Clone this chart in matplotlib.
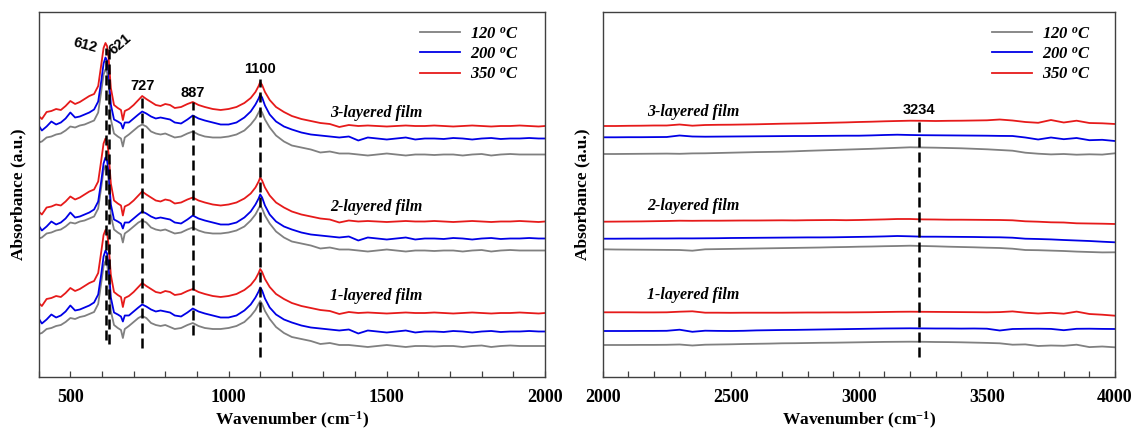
import matplotlib.pyplot as plt
from matplotlib.lines import Line2D
from matplotlib.ticker import MultipleLocator

plt.rcParams['font.family'] = 'serif'
plt.rcParams['font.serif'] = ['Liberation Serif', 'DejaVu Serif']
plt.rcParams['font.weight'] = 'bold'
plt.rcParams['axes.labelweight'] = 'bold'
plt.rcParams['mathtext.default'] = 'regular'

temps = ['120', '200', '350']
colors = {'120': '#808080', '200': '#0000e6', '350': '#e61a1a'}
films = ['1-layered film', '2-layered film', '3-layered film']

# ---- 400-2000 cm-1 : band profiles (height above the 2000 cm-1 level) ----
wn_low = [400, 410, 425, 440, 455, 470, 485, 500, 515, 530,
          545, 560, 575, 588, 598, 605, 611, 616, 621, 628,
          638, 650, 660, 666, 672, 685, 700, 715, 727, 740,
          755, 770, 785, 800, 815, 830, 850, 870, 887, 905,
          925, 950, 975, 1000, 1025, 1050, 1070, 1085, 1095, 1100,
          1106, 1115, 1130, 1150, 1175, 1200, 1230, 1260, 1290, 1320,
          1350, 1380, 1410, 1440, 1470, 1500, 1530, 1560, 1590, 1620,
          1650, 1680, 1710, 1740, 1770, 1800, 1830, 1860, 1890, 1920,
          1950, 1980, 2000]

band_350 = [10, 7, 14, 15, 17, 16, 20, 25, 22, 24,
            27, 30, 32, 40, 62, 78, 83, 80, 68, 38,
            21, 18, 16, 6, 15, 17, 21, 26, 30, 27,
            24, 21, 20, 22, 21, 18, 19, 22, 24, 21,
            19, 17, 16, 17, 19, 23, 28, 34, 40, 44,
            41, 34, 26, 19, 14, 10, 7, 5, 3, 2,
            -1, 1, 0, 0.5, 0, -0.5, 0, 0.5, 0, 0,
            0.5, 0, -0.5, 0, 0.5, 0, -0.5, 0, 0, 0.5,
            0, -0.5, 0]
band_200 = [13, 8, 12, 17, 14, 16, 20, 26, 21, 22,
            24, 26, 29, 37, 58, 75, 81, 78, 66, 34,
            19, 17, 15, 10, 16, 16, 20, 24, 27, 25,
            22, 20, 21, 20, 19, 16, 15, 19, 23, 20,
            18, 16, 14, 14, 16, 21, 27, 34, 40, 44,
            41, 33, 24, 17, 12, 9, 6, 4, 3, 2,
            1, 2, -2, 1, 0, -1, 0, 1, -1, 0,
            0, -0.5, 0.5, 0, -1, 0, 0.5, -0.5, 0, 0,
            0.5, 0, 0]
band_120 = [12, 13, 17, 18, 20, 21, 24, 28, 27, 29,
            30, 32, 34, 42, 64, 80, 85, 82, 70, 35,
            21, 18, 16, 8, 17, 20, 24, 28, 30, 28,
            23, 21, 20, 21, 19, 17, 18, 21, 23, 20,
            18, 17, 17, 18, 20, 24, 30, 36, 42, 45,
            42, 35, 27, 19, 13, 9, 7, 5, 2, 3,
            1, 1, 0, -1, 0, 1, 0, -1, 0, 0,
            -0.5, 0, 0, -1, 0, 0.5, -1, 0, 0.5, 0,
            0, 0, 0]
bands = {'120': band_120, '200': band_200, '350': band_350}

# vertical offset of each trace (1-, 2-, 3-layered film)
offsets = {'120': [31, 126.5, 222.5],
           '200': [45.5, 138.5, 238.5],
           '350': [64, 155.5, 251]}

# ---- 2000-4000 cm-1 ----
wn_high = list(range(2000, 4001, 50))

high = {
    ('350', 2): [251, 251, 251.2, 251.3, 251.5, 251.5, 252.5, 251.3, 252, 252.2,
                 252.3, 252.5, 252.7, 253, 253.3, 253.5, 253.7, 254, 254.3, 254.6,
                 255, 255.3, 255.7, 256, 256.3, 256.2, 256, 256.2, 256.3, 256.5,
                 256.7, 257.5, 256.5, 255, 254.2, 257, 254.5, 256.3, 254, 253.7, 253],
    ('200', 2): [239.7, 239.7, 239.8, 239.8, 239.9, 240, 241.5, 240.5, 240.3, 240.4,
                 240.5, 240.6, 240.7, 240.8, 240.9, 241, 241, 241.1, 241.2, 241.3,
                 241.3, 241.6, 242, 242.3, 242, 241.8, 241.7, 241.6, 241.5, 241.4,
                 241.3, 241.1, 241, 239.5, 237.5, 239.5, 237.8, 239, 236.8, 237.2, 236],
    ('120', 2): [223, 223, 223.1, 223.2, 223.3, 223.4, 223.2, 223.6, 223.7, 224,
                 224.3, 224.6, 224.9, 225.1, 225.3, 225.7, 226.2, 226.6, 227, 227.4,
                 227.8, 228.2, 228.7, 229.2, 229.7, 229.5, 229.3, 229, 228.7, 228.2,
                 227.7, 227, 226.3, 224.3, 223.3, 222.6, 223, 222.3, 222.7, 222.4, 223.7],
    ('350', 1): [155.3, 155.4, 155.5, 155.6, 155.8, 156, 156.3, 156.2, 156.3, 156.3,
                 156.4, 156.5, 156.5, 156.6, 156.7, 156.6, 156.8, 156.9, 157, 156.8,
                 157, 157.3, 157.6, 158, 158, 157.6, 157.5, 157.3, 157.3, 157.2,
                 157.1, 157, 156.7, 155.7, 155.3, 154.7, 154.5, 153.7, 153.5, 153.3, 153],
    ('200', 1): [138.3, 138.3, 138.4, 138.4, 138.5, 138.5, 138.6, 138.6, 138.7, 138.8,
                 139, 139.1, 139.2, 139.3, 139.4, 139.5, 139.6, 139.6, 139.7, 139.9,
                 140.1, 140.3, 140.6, 141, 140.7, 140.3, 140.3, 140.2, 140.1, 140,
                 139.8, 139.7, 139.3, 138.3, 138, 137.6, 137, 136.5, 136, 135.3, 134.7],
    ('120', 1): [127.7, 127.5, 127.4, 127.3, 127.2, 127.1, 127, 126.3, 127.7, 127.9,
                 128.1, 128.3, 128.5, 128.7, 128.9, 129.1, 129.3, 129.5, 129.8, 130,
                 130.3, 130.5, 130.8, 131, 131.3, 131, 130.7, 130.3, 130, 129.7,
                 129.3, 129, 128.3, 127, 126.8, 126.4, 126, 125.4, 125, 124.6, 124.7],
    ('350', 0): [64.7, 64.7, 64.7, 64.6, 64.6, 64.7, 65.3, 65.7, 64.3, 64.3,
                 64.2, 64.3, 64.3, 64.3, 64.3, 64.4, 64.5, 64.5, 64.6, 64.6,
                 64.7, 64.8, 65, 65.2, 65.3, 65.2, 65.1, 65, 64.9, 64.8,
                 64.7, 64.9, 65.6, 64.3, 63.5, 64.2, 63.3, 65.4, 63, 62.3, 61.3],
    ('200', 0): [46, 46, 46, 46.1, 46.1, 46.2, 47.3, 45.2, 46.3, 46.1,
                 46, 46.2, 46.6, 46.8, 47, 47.1, 47.3, 47.5, 47.7, 47.9,
                 48.1, 48.3, 48.5, 48.6, 48.7, 48.6, 48.5, 48.5, 48.4, 48.5,
                 48.3, 46.5, 48, 48.2, 48.3, 48.1, 46.8, 48.2, 48.3, 48.1, 48],
    ('120', 0): [32, 32, 32, 32.1, 32.1, 32.2, 32.5, 31.5, 32.3, 32.5,
                 32.7, 33, 33.2, 33.4, 33.7, 33.8, 34, 34.2, 34.3, 34.5,
                 34.7, 34.9, 35.1, 35.2, 35.3, 35.2, 35, 34.9, 34.7, 34.4,
                 34.1, 33.7, 32.3, 32.6, 31, 31.5, 31.2, 32.3, 29.9, 30.5, 29.7],
}

# marked band positions: (wavenumber, line bottom, line top)
peaks_low = [(612, 37, 329), (621, 33, 329), (727, 29, 281), (887, 42, 275), (1100, 20, 298)]
peaks_high = [(3234, 20, 260)]

W, H = 1136, 432
fig = plt.figure(figsize=(W / 100, H / 100), dpi=100)
ax1 = fig.add_axes([38.7 / W, 55 / H, 506.3 / W, 364.7 / H])
ax2 = fig.add_axes([602.7 / W, 55 / H, 512.3 / W, 364.7 / H])

for t in temps:
    for i in range(3):
        y = [offsets[t][i] + b for b in bands[t]]
        ax1.plot(wn_low, y, color=colors[t], lw=1.3)
        ax2.plot(wn_high, high[(t, i)], color=colors[t], lw=1.3)

for ax, pk in ((ax1, peaks_low), (ax2, peaks_high)):
    for x, y0, y1 in pk:
        ax.vlines(x, y0, y1, colors='black', lw=1.8, linestyles=(0, (4, 2)), zorder=5)

lab = dict(fontsize=10.5, fontweight='bold', family='Liberation Sans')
ax1.text(584, 329, '612', ha='right', va='center', rotation=-15,
         rotation_mode='anchor', **lab)
ax1.text(635, 322, '621', ha='left', va='baseline', rotation=40,
         rotation_mode='anchor', **lab)
ax1.text(727, 291, '727', ha='center', va='center', **lab)
ax1.text(887, 284, '887', ha='center', va='center', **lab)
ax1.text(1100, 308, '1100', ha='center', va='center', **lab)
ax2.text(3234, 267, '3234', ha='center', va='center', **lab)

film_y = [81, 170, 264]
for i, f in enumerate(films):
    ax1.text(1466, film_y[i], f, ha='center', va='center', fontsize=11.5,
             style='italic', fontweight='bold')
    ax2.text(2355, film_y[i] + 1, f, ha='center', va='center', fontsize=11.5,
             style='italic', fontweight='bold')

handles = [Line2D([], [], color=colors[t], lw=1.3) for t in temps]
labels = [t + r' $^{o}$C' for t in temps]

for ax, xmin, xmax, anchor in ((ax1, 400, 2000, (0.949, 0.962)),
                               (ax2, 2000, 4000, (0.953, 0.962))):
    ax.set_xlim(xmin, xmax)
    ax.set_ylim(0, 364.7)
    ax.set_yticks([])
    ax.xaxis.set_major_locator(MultipleLocator(500))
    ax.xaxis.set_minor_locator(MultipleLocator(100))
    ax.tick_params(axis='x', which='both', direction='in', length=4.5,
                   width=0.9, color='#404040', pad=9, labelsize=13)
    for s in ax.spines.values():
        s.set_color('#404040')
        s.set_linewidth(1.0)
    ax.set_xlabel('Wavenumber (cm$^{-1}$)', fontsize=12.5, labelpad=2.5)
    ax.set_ylabel('Absorbance (a.u.)', fontsize=12.5, labelpad=9)
    ax.legend(handles, labels, loc='upper right', bbox_to_anchor=anchor,
              frameon=False, borderpad=0, borderaxespad=0, handlelength=2.4,
              handletextpad=0.6, labelspacing=0.25,
              prop=dict(family='Liberation Serif', weight='bold', style='italic', size=12))

fig.savefig('out.png', dpi=100)
